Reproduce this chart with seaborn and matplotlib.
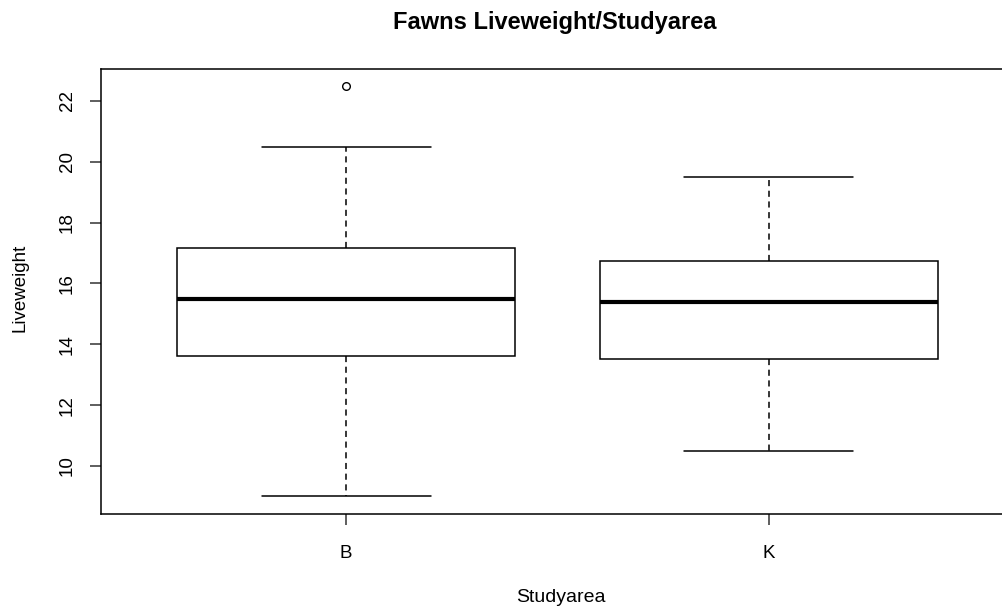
import pandas as pd
import seaborn as sns
import matplotlib.pyplot as plt

# sample values per study area (chosen to match the box statistics in the picture)
weights_B = [9.0, 12.0, 13.6, 14.5, 15.5, 16.5, 17.15, 20.5, 22.5]
weights_K = [10.5, 12.5, 13.5, 14.5, 15.4, 16.0, 16.75, 18.0, 19.5]
areas = ["B", "K"]

df = pd.DataFrame({
    "Studyarea": ["B"] * len(weights_B) + ["K"] * len(weights_K),
    "Liveweight": weights_B + weights_K,
})

sns.set_style("white")
plt.rcParams['font.family'] = ['Liberation Sans', 'DejaVu Sans']
plt.rcParams['text.color'] = 'black'
plt.rcParams['axes.labelcolor'] = 'black'

W, H = 1002, 607
fig = plt.figure(figsize=(W / 100, H / 100), dpi=100)
ax = fig.add_axes([101 / W, (H - 514) / H, (1014 - 101) / W, (514 - 69) / H])

sns.boxplot(
    data=df, x="Studyarea", y="Liveweight", order=areas,
    color="white", linecolor="black", linewidth=1.1, width=0.8, whis=1.5,
    medianprops=dict(linewidth=3),
    whiskerprops=dict(linestyle=(0, (4, 3))),
    flierprops=dict(marker="o", markerfacecolor="none", markeredgecolor="black",
                    markersize=5.5, markeredgewidth=1),
    ax=ax,
)

ax.set_xlim(-0.58, 1.58)
ax.set_ylim(8.42, 23.05)
ax.set_yticks([10, 12, 14, 16, 18, 20, 22])
for lab in ax.get_yticklabels():
    lab.set_rotation(90)
    lab.set_va("center")

for s in ax.spines.values():
    s.set_visible(True)
    s.set_color("black")
    s.set_linewidth(1.1)

ax.tick_params(axis="both", which="both", direction="out", length=8, width=1.1,
               color="#333333", labelsize=13.5, labelcolor="black",
               left=True, bottom=True)
ax.tick_params(axis="y", pad=10)
ax.tick_params(axis="x", pad=14)

ax.set_xlabel("Studyarea", fontsize=14, va="center")
ax.xaxis.set_label_coords((561 - 101) / 913, (514 - 597) / 445)
ax.set_ylabel("Liveweight", fontsize=13.5, va="center")
ax.yaxis.set_label_coords((20 - 101) / 913, (514 - 288) / 445)
fig.text(554.5 / W, 1 - 22 / H, "Fawns Liveweight/Studyarea", ha="center", va="center",
         fontsize=17, fontweight="bold", color="black")

fig.savefig("out.png", dpi=100)
